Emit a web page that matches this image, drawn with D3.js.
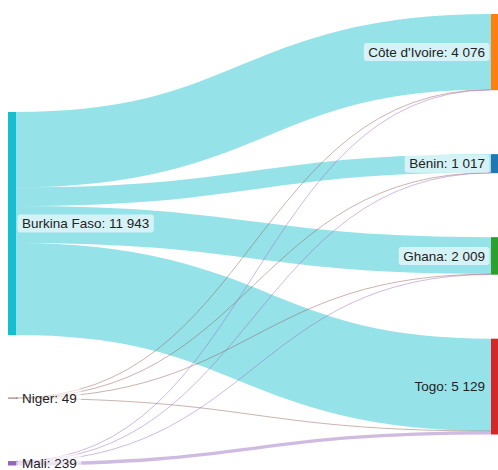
<!DOCTYPE html>
<html>
<head>
<meta charset="utf-8">
<script src="https://cdn.jsdelivr.net/npm/d3@7"></script>
<style>
  html, body { margin: 0; padding: 0; background: #fff; }
  svg { display: block; }
</style>
</head>
<body>
<svg id="chart" width="498" height="470"></svg>
<script>
// ---- Data ----
const sources = ["Burkina Faso", "Niger", "Mali"];
const targets = ["Côte d'Ivoire", "Bénin", "Ghana", "Togo"];
// flows: rows = sources, columns = targets
const flowBurkina = [4042, 989, 1975, 4937];
const flowNiger   = [12, 11, 14, 12];
const flowMali    = [22, 17, 20, 180];
const flows = [flowBurkina, flowNiger, flowMali];

const sourceColors = ["#17becf", "#8c564b", "#9467bd"];
const targetColors = ["#ff7f0e", "#1f77b4", "#2ca02c", "#d62728"];
const noBoxLabels = ["Togo"];

// ---- Layout ----
const W = 498, H = 470;
const nodeWidth = 8;
const xLeft = 8, xRight = 499;
const targetTop = 14, targetBottom = 434.5, targetPad = 64;
const sourceTop = 112, sourcePad = 62.5;

const fmt = d3.formatLocale({decimal: ",", thousands: "\u00a0", grouping: [3], currency: ["", ""]}).format(",d");

const sourceTotals = flows.map(r => d3.sum(r));
const targetTotals = targets.map((t, j) => d3.sum(flows, r => r[j]));
const grand = d3.sum(targetTotals);

const ky = d3.scaleLinear()
  .domain([0, grand])
  .range([0, (targetBottom - targetTop) - (targets.length - 1) * targetPad]);

function stack(names, totals, top, pad, colors, side) {
  let y = top;
  return names.map((name, i) => {
    const n = {name, value: totals[i], y0: y, y1: y + ky(totals[i]), color: colors[i], side};
    y = n.y1 + pad;
    return n;
  });
}
const sNodes = stack(sources, sourceTotals, sourceTop, sourcePad, sourceColors, "left");
const tNodes = stack(targets, targetTotals, targetTop, targetPad, targetColors, "right");
sNodes.forEach(n => { n.x0 = xLeft; n.x1 = xLeft + nodeWidth; });
tNodes.forEach(n => { n.x0 = xRight - nodeWidth; n.x1 = xRight; });

// links
const links = [];
flows.forEach((row, i) => row.forEach((v, j) => {
  links.push({source: sNodes[i], target: tNodes[j], value: v, width: ky(v), si: i, tj: j});
}));
// source-side offsets (ordered by target)
sNodes.forEach((n, i) => {
  let y = n.y0;
  links.filter(l => l.si === i).sort((a, b) => a.tj - b.tj).forEach(l => {
    l.ys = y + l.width / 2; y += l.width;
  });
});
tNodes.forEach((n, j) => {
  let y = n.y0;
  links.filter(l => l.tj === j).sort((a, b) => a.si - b.si).forEach(l => {
    l.yt = y + l.width / 2; y += l.width;
  });
});

const svg = d3.select("#chart");

const linkGen = d3.linkHorizontal()
  .source(d => [d.source.x1, d.ys])
  .target(d => [d.target.x0, d.yt]);

// label boxes that sit under links
const underG = svg.append("g");

svg.append("g")
  .attr("fill", "none")
  .selectAll("path")
  .data(links)
  .join("path")
  .attr("d", linkGen)
  .attr("stroke", d => d.source.color)
  .attr("stroke-opacity", 0.45)
  .attr("stroke-width", d => Math.max(1, d.width));

const allNodes = sNodes.concat(tNodes);
svg.append("g")
  .selectAll("rect")
  .data(allNodes)
  .join("rect")
  .attr("x", d => d.x0)
  .attr("y", d => d.y0)
  .attr("width", d => d.x1 - d.x0)
  .attr("height", d => Math.max(0.9, d.y1 - d.y0))
  .attr("fill", d => d.color);

const labelG = svg.append("g")
  .attr("font-family", "'Liberation Sans', Arial, Helvetica, sans-serif")
  .attr("font-size", "13.5px")
  .attr("fill", "#222");

allNodes.forEach(n => {
  const g = labelG.append("g");
  const x = n.side === "left" ? n.x1 + 6 : n.x0 - 6;
  const y = (n.y0 + n.y1) / 2;
  const t = g.append("text")
    .attr("x", x)
    .attr("y", y)
    .attr("dy", "0.35em")
    .attr("text-anchor", n.side === "left" ? "start" : "end")
    .text(`${n.name}: ${fmt(n.value)}`);
  const bb = t.node().getBBox();
  const target = noBoxLabels.includes(n.name) ? underG : g;
  target.insert("rect", "text")
    .attr("x", bb.x - 4.5)
    .attr("y", y - 9)
    .attr("width", bb.width + 9)
    .attr("height", 18)
    .attr("rx", 3)
    .attr("fill", "#fff")
    .attr("fill-opacity", 0.6);
});
</script>
</body>
</html>
